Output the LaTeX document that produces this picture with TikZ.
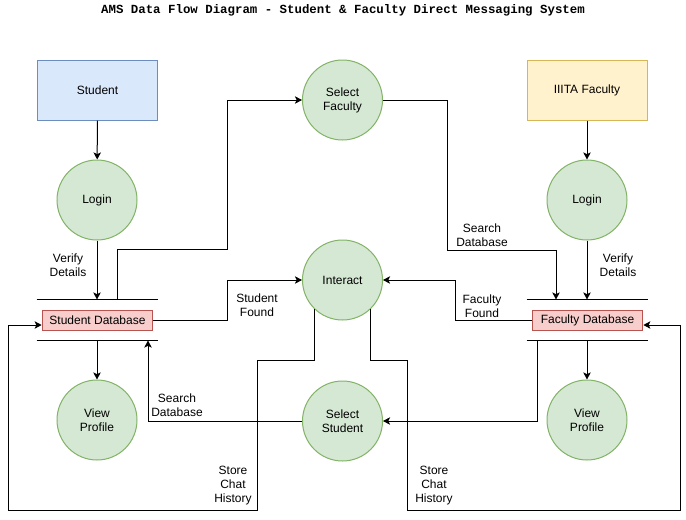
\documentclass[tikz,border=0pt]{standalone}
\usepackage{fontspec}
\setmainfont{Liberation Sans}
\newfontfamily\titlefont{Liberation Mono}
\usetikzlibrary{arrows.meta}

\definecolor{userfill}{HTML}{DAE8FC}
\definecolor{userline}{HTML}{6C8EBF}
\definecolor{staffill}{HTML}{FFF2CC}
\definecolor{stafline}{HTML}{D6B656}
\definecolor{procfill}{HTML}{D5E8D4}
\definecolor{procline}{HTML}{82B366}
\definecolor{dbfill}{HTML}{F8CECC}
\definecolor{dbline}{HTML}{B85450}

\begin{document}
\begin{tikzpicture}
    [
        x=0.75pt, y=-0.75pt,
        font=\fontsize{9}{10.5}\selectfont,
        line width=0.75pt,
        entity/.style={rectangle, minimum width=90pt, minimum height=45pt},
        process/.style={circle, draw=procline, fill=procfill, minimum size=60pt, inner sep=0pt, align=center},
        dbbox/.style={rectangle, draw=dbline, fill=dbfill, minimum width=83pt, minimum height=15pt, inner sep=0pt},
        store/.style={rectangle, minimum width=90pt, minimum height=30pt, inner sep=0pt},
        flow/.style={-{Stealth[length=5.3pt,width=5.6pt,inset=1.3pt]}},
        flowlabel/.style={align=center, inner sep=0pt},
    ]
    \fill[white] (0,0) rectangle (686,519);
    \useasboundingbox (0,0) rectangle (686,519);

    \node (title) at (343,10) {\titlefont\bfseries\fontsize{9.3}{11}\selectfont AMS Data Flow Diagram - Student \& Faculty Direct Messaging System};

    % external entities
    \node (student) at (97.5,90) [entity, draw=userline, fill=userfill] {Student};
    \node (faculty) at (587,90) [entity, draw=stafline, fill=staffill] {IIITA Faculty};

    % processes
    \node (slogin) at (97,200) [process] {Login};
    \node (flogin) at (587,200) [process] {Login};
    \node (selfac) at (342.5,100) [process] {Select\\Faculty};
    \node (interact) at (342.5,280) [process] {Interact};
    \node (selstu) at (342.5,421) [process] {Select\\Student};
    \node (sview) at (97,420) [process] {View\\Profile};
    \node (fview) at (587,420) [process] {View\\Profile};

    % data stores
    \node (sstore) at (97,320) [store] {};
    \node (fstore) at (587,320) [store] {};
    \draw (sstore.north west) -- (sstore.north east);
    \draw (sstore.south west) -- (sstore.south east);
    \draw (fstore.north west) -- (fstore.north east);
    \draw (fstore.south west) -- (fstore.south east);
    \node (sdb) at (97.5,320) [dbbox] {Student Database};
    \node (fdb) at (587.5,320) [dbbox] {Faculty Database};

    % flows
    \draw [flow] (student) -- (slogin);
    \draw [flow] (faculty) -- (flogin);
    \draw [flow] (slogin) -- (sstore.north);
    \draw [flow] (flogin) -- (fstore.north);
    \draw [flow] (sstore.south) -- (sview);
    \draw [flow] (fstore.south) -- (fview);
    \draw [flow] ([xshift=15pt]sstore.north) -- ++(0,-50) -| (227,100) -- (selfac.west);
    \draw [flow] (sdb.east) -| (227,280) -- (interact.west);
    \draw [flow] (selfac.east) -| (447,250) -| ([xshift=-23.25pt]fstore.north);
    \draw [flow] (fdb.west) -| (455,280) -- (interact.east);
    \draw [flow] ([xshift=-37.5pt]fstore.south) |- (selstu.east);
    \draw [flow] (selstu.west) -| ([xshift=38.25pt]sstore.south);
    \draw [flow] (interact.-134) |- (257,360) |- (8,510) |- ([yshift=-3.75pt]sdb.west);
    \draw [flow] (interact.-46) |- (407,360) |- (680,510) |- ([yshift=-3.75pt]fdb.east);

    % flow labels
    \node (lverify1) at (68,265) [flowlabel] {Verify\\Details};
    \node (lverify2) at (618,265) [flowlabel] {Verify\\Details};
    \node (lsfound) at (257,305) [flowlabel] {Student\\Found};
    \node (lffound) at (482,306) [flowlabel] {Faculty\\Found};
    \node (lsearch1) at (482,235) [flowlabel] {Search\\Database};
    \node (lsearch2) at (177,405) [flowlabel] {Search\\Database};
    \node (lstore1) at (233,486) [flowlabel] {Store\\Chat\\History};
    \node (lstore2) at (434,486) [flowlabel] {Store\\Chat\\History};
\end{tikzpicture}
\end{document}
